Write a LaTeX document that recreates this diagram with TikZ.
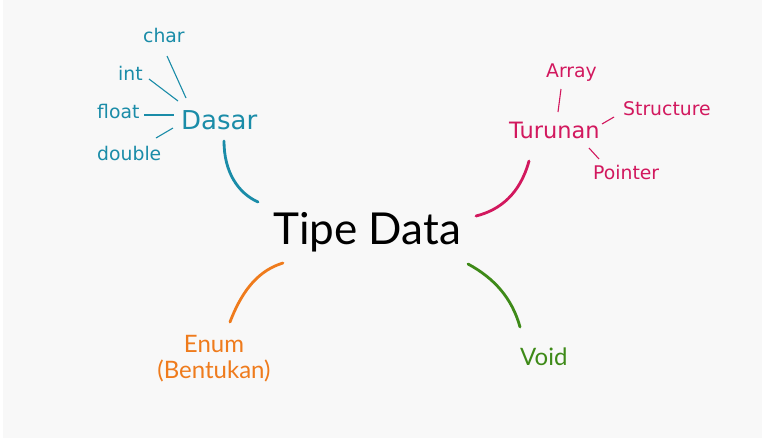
\documentclass[tikz,border=0pt]{standalone}
\usepackage{fontspec}
\setmainfont{Lato}
\newfontfamily\dvfont{DejaVu Sans}
\definecolor{bgray}{HTML}{F8F8F8}
\definecolor{cteal}{HTML}{1A8CA8}
\definecolor{cmag}{HTML}{D2185E}
\definecolor{corange}{HTML}{EF7B1C}
\definecolor{cgreen}{HTML}{3E8A18}
\begin{document}
\begin{tikzpicture}[x=1pt,y=-1pt,
  lbl/.style={inner sep=0pt, anchor=base west},
  small/.style={font=\dvfont\fontsize{18.8}{22}\selectfont},
  branch/.style={line width=2.8pt, line cap=round},
  twig/.style={line width=1.1pt}]
\useasboundingbox (0,0) rectangle (762,445);
\fill[white] (0,0) rectangle (762,445);
\fill[bgray] (3,0) rectangle (762,438);

% central topic
\node[lbl, font=\fontsize{44}{50}\selectfont] (root) at (273,244) {Tipe Data};

% Dasar group
\begin{scope}[cteal]
\node[lbl, font=\dvfont\fontsize{26}{30}\selectfont] (dasar) at (181,129) {Dasar};
\node[lbl, small] (char) at (143,42) {char};
\node[lbl, small] (int) at (118,80) {int};
\node[lbl, small] (float) at (97,118) {float};
\node[lbl, small] (double) at (97,160) {double};
\coordinate (c1) at (167,56);  \coordinate (c2) at (186,98);
\coordinate (i1) at (149,79);  \coordinate (i2) at (178,101);
\coordinate (f1) at (144,115); \coordinate (f2) at (174,115);
\coordinate (d1) at (156,138); \coordinate (d2) at (173,128);
\draw[twig] (c1) -- (c2);
\draw[twig] (i1) -- (i2);
\draw[twig] (f1) -- (f2);
\draw[twig] (d1) -- (d2);
\coordinate (da) at (224,141); \coordinate (db) at (258,202);
\draw[branch] (da) .. controls (224,172) and (238,193) .. (db);
\end{scope}

% Turunan group
\begin{scope}[cmag]
\node[lbl, font=\dvfont\fontsize{22.5}{26}\selectfont] (turunan) at (509,138) {Turunan};
\node[lbl, small] (array) at (546,77) {Array};
\node[lbl, small] (structure) at (623,115) {Structure};
\node[lbl, small] (pointer) at (593,179) {Pointer};
\coordinate (a1) at (561,89);  \coordinate (a2) at (558,112);
\coordinate (s1) at (614,117); \coordinate (s2) at (602,124);
\coordinate (p1) at (589,148); \coordinate (p2) at (599,159);
\draw[twig] (a1) -- (a2);
\draw[twig] (s1) -- (s2);
\draw[twig] (p1) -- (p2);
\coordinate (ta) at (529,161); \coordinate (tb) at (476,216);
\draw[branch] (ta) .. controls (520,194) and (500,210) .. (tb);
\end{scope}

% Enum group
\begin{scope}[corange]
\node[inner sep=0pt, anchor=base, align=center,
      font=\fontsize{24}{26}\selectfont] (enum) at (214,378)
  {Enum\\(Bentukan)};
\coordinate (ea) at (230,322); \coordinate (eb) at (283,263);
\draw[branch] (ea) .. controls (243,288) and (260,270) .. (eb);
\end{scope}

% Void group
\begin{scope}[cgreen]
\node[lbl, font=\fontsize{24}{28}\selectfont] (void) at (520,365) {Void};
\coordinate (va) at (468,264); \coordinate (vb) at (520,327);
\draw[branch] (va) .. controls (494,278) and (512,298) .. (vb);
\end{scope}
\end{tikzpicture}
\end{document}
